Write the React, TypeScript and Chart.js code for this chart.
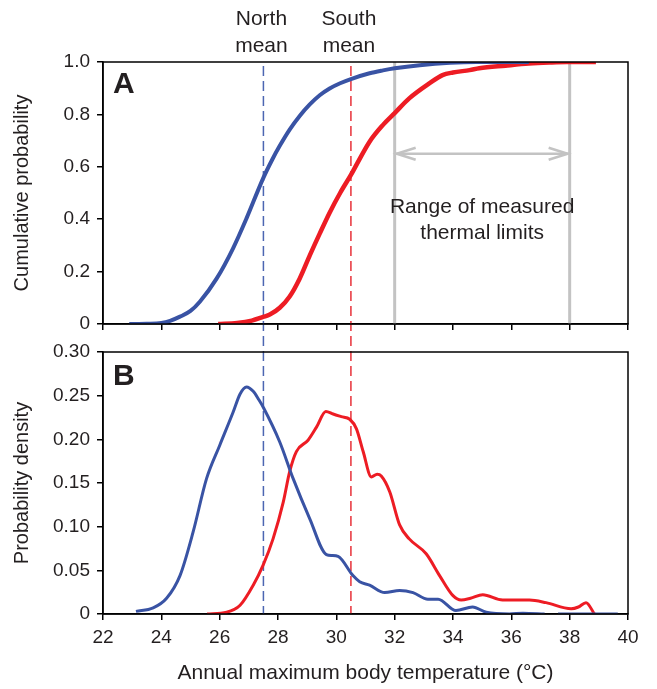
import React, { useEffect, useRef } from 'react';
import { Chart, registerables } from 'chart.js';

Chart.register(...registerables);

// ---------- data ----------
const X_TICK_VALUES = [22, 24, 26, 28, 30, 32, 34, 36, 38, 40];
const X_TICK_LABELS = ['22', '24', '26', '28', '30', '32', '34', '36', '38', '40'];
const A_TICK_VALUES = [0, 0.2, 0.4, 0.6, 0.8, 1.0];
const A_TICK_LABELS = ['0', '0.2', '0.4', '0.6', '0.8', '1.0'];
const B_TICK_VALUES = [0, 0.05, 0.1, 0.15, 0.2, 0.25, 0.3];
const B_TICK_LABELS = ['0', '0.05', '0.10', '0.15', '0.20', '0.25', '0.30'];

const NORTH_MEAN = 27.5;
const SOUTH_MEAN = 30.5;
const LIMIT_LOW = 32;
const LIMIT_HIGH = 38;
const ARROW_Y = 0.65;
const RANGE_TEXT_Y = 0.425;

// Panel A: cumulative probability
const NORTH_CDF_X = [22.9, 23.5, 24.0, 24.3, 24.64, 25.0, 25.32, 25.9, 26.46, 26.92, 27.49, 27.8, 28.06, 28.4, 28.75, 29.09, 29.43, 29.77, 30.13, 30.5, 31.14, 31.6, 32.0, 32.86, 33.9, 34.8, 36.6];
const NORTH_CDF_Y = [0, 0.001, 0.004, 0.012, 0.028, 0.05, 0.085, 0.174, 0.289, 0.403, 0.556, 0.627, 0.68, 0.742, 0.795, 0.838, 0.873, 0.899, 0.919, 0.935, 0.957, 0.968, 0.976, 0.988, 0.997, 1.0, 1.0];

const SOUTH_CDF_X = [25.95, 26.6, 27.1, 27.49, 27.72, 28.06, 28.4, 28.75, 29.09, 29.43, 29.77, 30.13, 30.5, 31.14, 31.6, 32.0, 32.5, 33.2, 33.64, 34.0, 34.57, 34.9, 35.8, 36.6, 37.3, 37.9, 38.9];
const SOUTH_CDF_Y = [0, 0.004, 0.013, 0.027, 0.036, 0.062, 0.105, 0.175, 0.262, 0.345, 0.425, 0.5, 0.569, 0.696, 0.76, 0.805, 0.861, 0.919, 0.95, 0.96, 0.969, 0.976, 0.986, 0.994, 0.998, 1.0, 1.0];

// Panel B: probability density
const NORTH_PDF_X = [23.13, 23.72, 24.18, 24.64, 25.09, 25.55, 26.0, 26.46, 26.7, 26.92, 27.15, 27.35, 27.49, 28.06, 28.52, 29.09, 29.66, 29.85, 30.06, 30.57, 30.8, 31.14, 31.66, 32.17, 32.63, 33.14, 33.49, 34.1, 34.67, 35.14, 35.94, 36.4, 37.14, 37.4, 37.6, 39.65];
const NORTH_PDF_Y = [0.003, 0.007, 0.018, 0.044, 0.094, 0.155, 0.193, 0.231, 0.252, 0.26, 0.255, 0.245, 0.237, 0.197, 0.155, 0.109, 0.068, 0.067, 0.066, 0.044, 0.037, 0.033, 0.0245, 0.027, 0.0245, 0.017, 0.017, 0.004, 0.008, 0.002, 0, 0.001, 0, null, 0, 0];

const SOUTH_PDF_X = [25.57, 26.24, 26.7, 27.15, 27.49, 27.83, 28.18, 28.4, 28.63, 29.03, 29.32, 29.64, 29.89, 30.17, 30.46, 30.69, 30.92, 31.2, 31.4, 31.54, 31.83, 32.17, 32.5, 33.08, 33.54, 34.0, 34.28, 34.6, 35.02, 35.7, 36.62, 37.19, 38.05, 38.3, 38.56, 38.85];
const SOUTH_PDF_Y = [0, 0.002, 0.01, 0.033, 0.056, 0.086, 0.128, 0.163, 0.186, 0.199, 0.214, 0.232, 0.229, 0.226, 0.223, 0.212, 0.186, 0.157, 0.16, 0.158, 0.14, 0.102, 0.086, 0.069, 0.044, 0.021, 0.016, 0.018, 0.022, 0.016, 0.016, 0.013, 0.006, 0.008, 0.013, 0];

// ---------- style ----------
const FONT = '"Liberation Sans", Arial, Helvetica, sans-serif';
const TEXT = '#231f20';
const BLUE = '#3953a4';
const RED = '#ed1c24';
const BLUE_DASH = '#4c66b2';
const RED_DASH = '#e8323a';
const GREY = '#c3c3c3';

const xy = (xs: number[], ys: (number | null)[]) => xs.map((x, i) => ({ x, y: ys[i] }));

const axisCommon = {
  grid: { display: true, drawOnChartArea: false, drawTicks: true, tickLength: 6, color: '#000', tickColor: '#000', lineWidth: 1.5, tickWidth: 1.5 },
  border: { display: true, color: '#000', width: 1.5 },
};

function makeXScale(showLabels: boolean, height: number) {
  return {
    type: 'linear',
    min: 22,
    max: 40,
    afterBuildTicks: (s: any) => { s.ticks = X_TICK_VALUES.map((v) => ({ value: v })); },
    ticks: {
      autoSkip: false,
      maxRotation: 0,
      padding: 6,
      color: TEXT,
      font: { size: 19, family: FONT },
      callback: (_v: any, i: number) => (showLabels ? X_TICK_LABELS[i] : ''),
    },
    title: {
      display: showLabels,
      text: 'Annual maximum body temperature (°C)',
      color: TEXT,
      font: { size: 21, family: FONT },
      padding: { top: 0, bottom: 3 },
    },
    afterFit: (s: any) => { s.height = height; },
    ...axisCommon,
  };
}

function makeYScale(values: number[], labels: string[], max: number, title: string) {
  return {
    type: 'linear',
    min: 0,
    max,
    afterBuildTicks: (s: any) => { s.ticks = values.map((v) => ({ value: v })); },
    ticks: {
      autoSkip: false,
      padding: 7,
      color: TEXT,
      font: { size: 19, family: FONT },
      callback: (_v: any, i: number) => labels[i],
    },
    title: {
      display: true,
      text: title,
      color: TEXT,
      font: { size: 20, family: FONT },
      padding: { top: 10, bottom: 0 },
    },
    afterFit: (s: any) => { s.width = 103; },
    ...axisCommon,
  };
}

function vline(ctx: CanvasRenderingContext2D, x: number, y0: number, y1: number, color: string, offset: number) {
  ctx.save();
  ctx.strokeStyle = color;
  ctx.lineWidth = 1.5;
  ctx.setLineDash([10, 5]);
  ctx.lineDashOffset = offset;
  ctx.beginPath();
  ctx.moveTo(x, y0);
  ctx.lineTo(x, y1);
  ctx.stroke();
  ctx.restore();
}

function panelPlugin(panel: 'A' | 'B') {
  return {
    id: 'panel' + panel,
    beforeDatasetsDraw(chart: any) {
      const { ctx, chartArea, scales } = chart;
      const xs = scales.x;
      const xN = xs.getPixelForValue(NORTH_MEAN);
      const xS = xs.getPixelForValue(SOUTH_MEAN);
      if (panel === 'A') {
        vline(ctx, xN, chartArea.top + 4, chart.height, BLUE_DASH, 0);
        vline(ctx, xS, chartArea.top + 4, chart.height, RED_DASH, 0);
      } else {
        const off = 286;
        vline(ctx, xN, chartArea.top, chartArea.bottom, BLUE_DASH, off);
        vline(ctx, xS, chartArea.top, chartArea.bottom, RED_DASH, off);
      }
    },
    afterDraw(chart: any) {
      const { ctx, chartArea, scales } = chart;
      const xs = scales.x;
      const ys = scales.y;
      ctx.save();
      // frame
      ctx.strokeStyle = '#000';
      ctx.lineWidth = 1.5;
      ctx.strokeRect(chartArea.left, chartArea.top, chartArea.right - chartArea.left, chartArea.bottom - chartArea.top);
      // panel letter
      ctx.fillStyle = TEXT;
      ctx.font = `bold 30px ${FONT}`;
      ctx.textAlign = 'left';
      ctx.textBaseline = 'alphabetic';
      ctx.fillText(panel, chartArea.left + 10, chartArea.top + (panel === 'A' ? 31 : 33));
      if (panel === 'A') {
        // mean labels
        ctx.font = `21px ${FONT}`;
        ctx.textAlign = 'center';
        const xN = xs.getPixelForValue(NORTH_MEAN);
        const xS = xs.getPixelForValue(SOUTH_MEAN);
        ctx.fillText('North', xN - 2, chartArea.top - 37);
        ctx.fillText('mean', xN - 2, chartArea.top - 10);
        ctx.fillText('South', xS - 2, chartArea.top - 37);
        ctx.fillText('mean', xS - 2, chartArea.top - 10);
        // arrow heads
        const yA = ys.getPixelForValue(ARROW_Y);
        const xL = xs.getPixelForValue(LIMIT_LOW) + 2;
        const xR = xs.getPixelForValue(LIMIT_HIGH) - 2;
        ctx.strokeStyle = GREY;
        ctx.lineWidth = 2.5;
        ctx.beginPath();
        ctx.moveTo(xL + 19, yA - 6);
        ctx.lineTo(xL, yA);
        ctx.lineTo(xL + 19, yA + 6);
        ctx.moveTo(xR - 19, yA - 6);
        ctx.lineTo(xR, yA);
        ctx.lineTo(xR - 19, yA + 6);
        ctx.stroke();
        // range text
        const xc = xs.getPixelForValue((LIMIT_LOW + LIMIT_HIGH) / 2);
        const yt = ys.getPixelForValue(RANGE_TEXT_Y);
        ctx.fillStyle = TEXT;
        ctx.fillText('Range of measured', xc, yt);
        ctx.fillText('thermal limits', xc, yt + 26);
      }
      ctx.restore();
    },
  };
}

const curve = (data: any, color: string, width: number) => ({
  data,
  borderColor: color,
  backgroundColor: color,
  borderWidth: width,
  pointRadius: 0,
  fill: false,
  spanGaps: false,
  cubicInterpolationMode: 'monotone',
});

const straight = (data: any, width: number) => ({
  data,
  borderColor: GREY,
  backgroundColor: GREY,
  borderWidth: width,
  pointRadius: 0,
  fill: false,
});

export default function App() {
  const refA = useRef<HTMLCanvasElement>(null);
  const refB = useRef<HTMLCanvasElement>(null);

  useEffect(() => {
    const chartA = new Chart(refA.current as HTMLCanvasElement, {
      type: 'line',
      data: {
        datasets: [
          curve(xy(NORTH_CDF_X, NORTH_CDF_Y), BLUE, 4),
          curve(xy(SOUTH_CDF_X, SOUTH_CDF_Y), RED, 4.5),
          straight([{ x: LIMIT_LOW, y: 0 }, { x: LIMIT_LOW, y: 1 }], 3),
          straight([{ x: LIMIT_HIGH, y: 0 }, { x: LIMIT_HIGH, y: 1 }], 3),
          straight([{ x: LIMIT_LOW, y: ARROW_Y }, { x: LIMIT_HIGH, y: ARROW_Y }], 2.5),
        ] as any,
      },
      options: {
        responsive: false,
        animation: false,
        layout: { padding: { top: 62, right: 29, left: 0, bottom: 0 } },
        plugins: { legend: { display: false }, tooltip: { enabled: false } },
        scales: {
          x: makeXScale(false, 28) as any,
          y: makeYScale(A_TICK_VALUES, A_TICK_LABELS, 1, 'Cumulative probability') as any,
        },
      },
      plugins: [panelPlugin('A')],
    });

    const chartB = new Chart(refB.current as HTMLCanvasElement, {
      type: 'line',
      data: {
        datasets: [
          curve(xy(NORTH_PDF_X, NORTH_PDF_Y), BLUE, 3),
          curve(xy(SOUTH_PDF_X, SOUTH_PDF_Y), RED, 3),
        ] as any,
      },
      options: {
        responsive: false,
        animation: false,
        layout: { padding: { top: 22, right: 29, left: 0, bottom: 0 } },
        plugins: { legend: { display: false }, tooltip: { enabled: false } },
        scales: {
          x: makeXScale(true, 75) as any,
          y: makeYScale(B_TICK_VALUES, B_TICK_LABELS, 0.3, 'Probability density') as any,
        },
      },
      plugins: [panelPlugin('B')],
    });

    return () => {
      chartA.destroy();
      chartB.destroy();
    };
  }, []);

  return (
    <div style={{ position: 'absolute', left: 0, top: 0, width: 657, height: 689, background: '#fff' }}>
      <canvas ref={refA} width={657} height={352} style={{ position: 'absolute', left: 0, top: 0, width: 657, height: 352 }} />
      <canvas ref={refB} width={657} height={359} style={{ position: 'absolute', left: 0, top: 330, width: 657, height: 359 }} />
    </div>
  );
}
